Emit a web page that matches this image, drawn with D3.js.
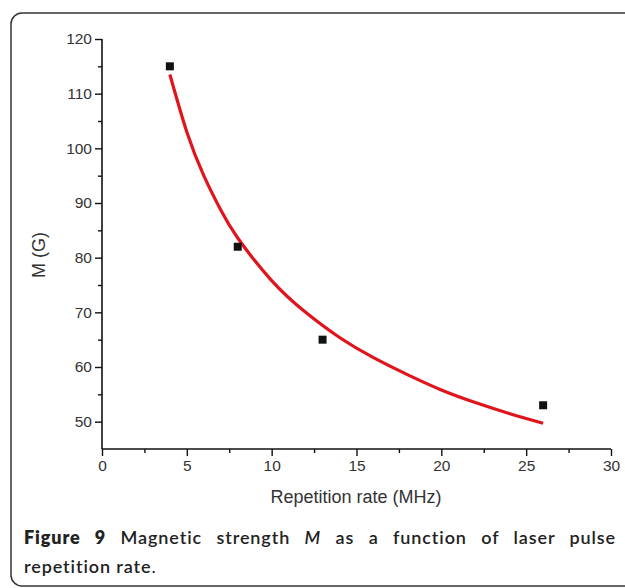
<!DOCTYPE html>
<html>
<head>
<meta charset="utf-8">
<script src="https://cdn.jsdelivr.net/npm/d3@7"></script>
<style>
  body { margin: 0; background: #fff; }
  svg { display: block; }
</style>
</head>
<body>
<svg id="container" width="625" height="588"></svg>
<script>
// measured data points
var rate = [4, 8, 13, 26];           // repetition rate (MHz)
var strength = [115, 82, 65, 53];    // M (G)

// red fit curve
var fitRate = [4, 5, 6, 7, 8, 10, 12, 14, 16, 18, 20, 22, 24, 26];
var fitM = [113.5, 103, 95, 88.7, 83.6, 75.8, 70, 65.4, 61.7, 58.6, 55.8, 53.5, 51.5, 49.7];

// tick labels
var xTicks = [0, 5, 10, 15, 20, 25, 30];
var yTicks = [50, 60, 70, 80, 90, 100, 110, 120];

var svg = d3.select('#container');

// frame round the figure, runs off the right edge
svg.append('rect')
    .attr('x', 11).attr('y', 13)
    .attr('width', 660).attr('height', 573)
    .attr('rx', 11)
    .attr('fill', 'none')
    .attr('stroke', '#333')
    .attr('stroke-width', 1.5);

// scales
var x = d3.scaleLinear().domain([0, 30]).range([102, 611]);
var y = d3.scaleLinear().domain([45, 120]).range([449, 39]);

var axisFont = 'Liberation Sans, Arial, sans-serif';

// x axis: major + minor ticks
var xMinor = svg.append('g')
    .attr('transform', 'translate(0,449)')
    .call(d3.axisBottom(x).tickValues(d3.range(2.5, 30, 5)).tickSize(4).tickFormat(''));
var xAxis = svg.append('g')
    .attr('transform', 'translate(0,449)')
    .call(d3.axisBottom(x).tickValues(xTicks).tickSize(7).tickSizeOuter(0).tickPadding(4));

// y axis
var yMinor = svg.append('g')
    .attr('transform', 'translate(102,0)')
    .call(d3.axisLeft(y).tickValues(d3.range(55, 120, 10)).tickSize(4).tickFormat(''));
var yAxis = svg.append('g')
    .attr('transform', 'translate(102,0)')
    .call(d3.axisLeft(y).tickValues(yTicks).tickSize(7).tickSizeOuter(0).tickPadding(3));

[xMinor, xAxis, yMinor, yAxis].forEach(function(g){
  g.select('.domain').attr('stroke', '#111').attr('stroke-width', 1.6);
  g.selectAll('.tick line').attr('stroke', '#111').attr('stroke-width', 1.4);
  g.selectAll('text')
      .attr('fill', '#333')
      .style('font-family', axisFont)
      .style('font-size', '15.5px');
});
xMinor.select('.domain').remove();
yMinor.select('.domain').remove();
// bottom end of y axis down to the x axis
yAxis.select('.domain').attr('d', 'M0,' + y(120) + 'V449');
xAxis.select('.domain').attr('d', 'M102,0H' + x(30));

// axis titles
svg.append('text')
    .attr('x', 356).attr('y', 503)
    .attr('text-anchor', 'middle')
    .attr('fill', '#333')
    .style('font-family', axisFont)
    .style('font-size', '18px')
    .text('Repetition rate (MHz)');

svg.append('text')
    .attr('transform', 'translate(45,255) rotate(-90)')
    .attr('text-anchor', 'middle')
    .attr('fill', '#333')
    .style('font-family', axisFont)
    .style('font-size', '18px')
    .text('M (G)');

// fit curve
var line = d3.line()
    .x(function(d, i){ return x(fitRate[i]); })
    .y(function(d){ return y(d); })
    .curve(d3.curveNatural);

svg.append('path')
    .datum(fitM)
    .attr('d', line)
    .attr('fill', 'none')
    .attr('stroke', '#e0141c')
    .attr('stroke-width', 3.2);

// data points
svg.append('g').selectAll('rect')
    .data(rate)
  .enter().append('rect')
    .attr('x', function(d){ return x(d) - 4; })
    .attr('y', function(d, i){ return y(strength[i]) - 4; })
    .attr('width', 8).attr('height', 8)
    .attr('fill', '#111');

// caption, first line justified
var capFont = 'Lato, "Open Sans", sans-serif';
var cap1 = svg.append('text')
    .attr('x', 24).attr('y', 544)
    .attr('fill', '#222')
    .style('font-family', capFont)
    .style('font-size', '18px')
    .style('font-weight', 600)
    .style('letter-spacing', '0.9px');
cap1.append('tspan').style('font-weight', 800).text('Figure 9');
cap1.append('tspan').text(' Magnetic strength ');
cap1.append('tspan').style('font-style', 'italic').text('M');
cap1.append('tspan').text(' as a function of laser pulse');

var natural = cap1.node().getComputedTextLength();
var gaps = 10;
var ws = Math.max(0, (616 - 24 - natural) / gaps);
cap1.style('word-spacing', ws + 'px');

svg.append('text')
    .attr('x', 24).attr('y', 573)
    .attr('fill', '#222')
    .style('font-family', capFont)
    .style('font-size', '18px')
    .style('font-weight', 600)
    .style('letter-spacing', '0.9px')
    .text('repetition rate')
  .append('tspan').style('font-weight', 400).text('.');
</script>
</body>
</html>
